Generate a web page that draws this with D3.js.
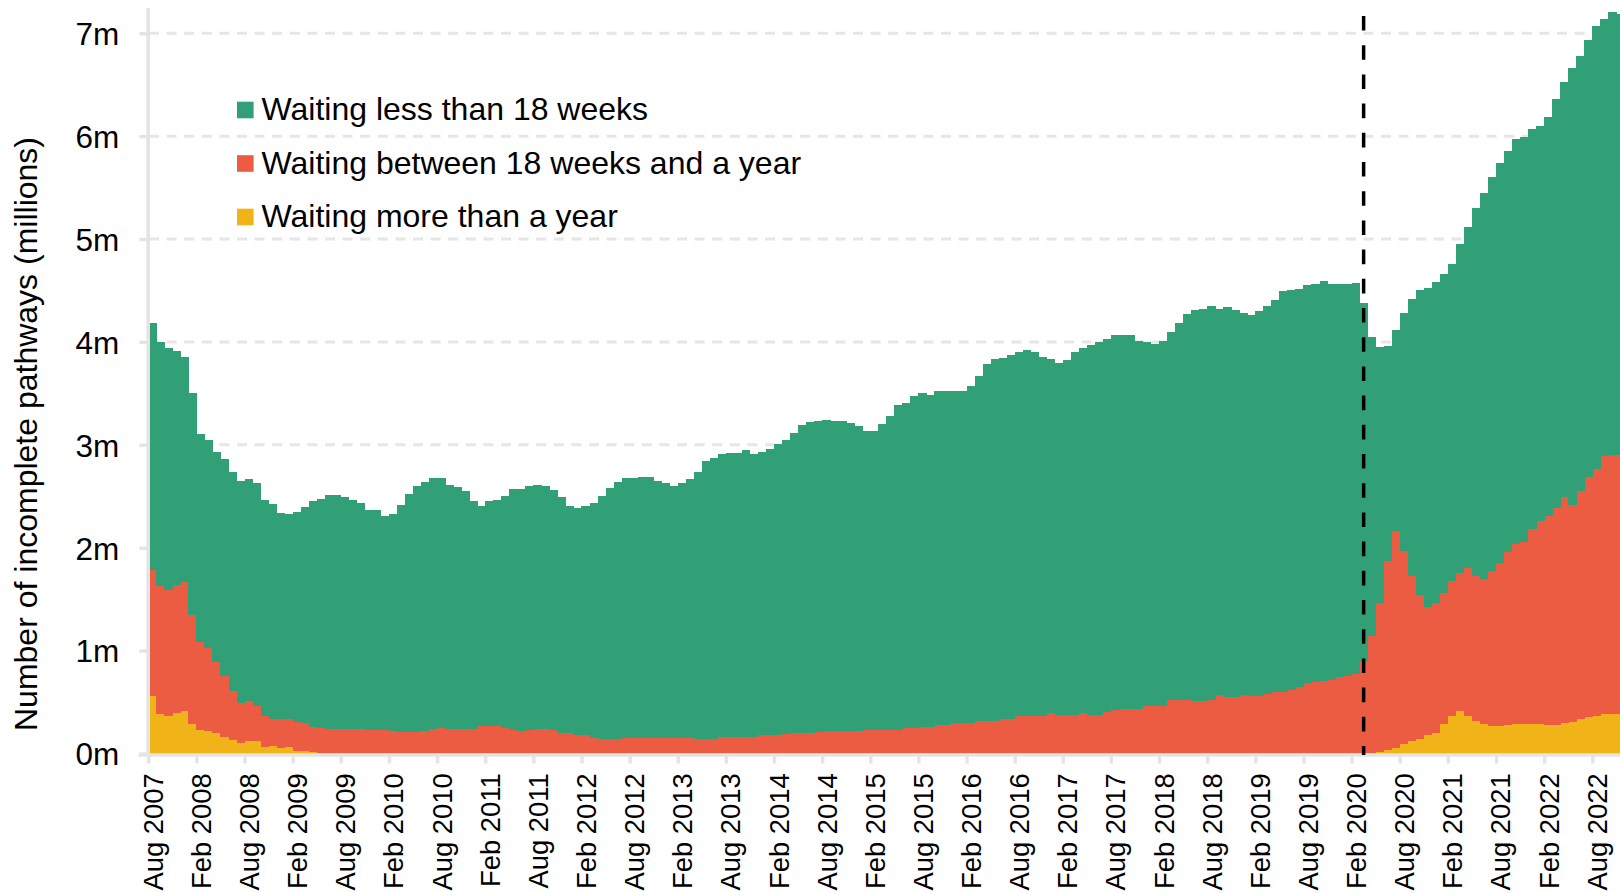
<!DOCTYPE html>
<html>
<head>
<meta charset="utf-8">
<script src="https://cdn.jsdelivr.net/npm/d3@7"></script>
<style>
  body { margin: 0; background: #fff; }
  text { font-family: "Liberation Sans", Arial, sans-serif; fill: #000; }
</style>
</head>
<body>
<div id="chart"></div>
<script>
// monthly categories, Aug 2007 - Nov 2022
var months = d3.timeMonth.range(new Date(2007, 7, 1), new Date(2022, 11, 1));

// millions of pathways
var under18 = [
  2.40, 2.37, 2.347, 2.273, 2.186, 2.151, 2.029, 2.024, 2.043, 2.107,
  2.131, 2.153, 2.16, 2.165, 2.105, 2.088, 1.997, 1.994, 2.04, 2.094,
  2.191, 2.225, 2.27, 2.27, 2.248, 2.222, 2.199, 2.144, 2.137, 2.083,
  2.111, 2.208, 2.318, 2.389, 2.418, 2.439, 2.426, 2.374, 2.354, 2.309,
  2.211, 2.137, 2.185, 2.195, 2.25, 2.341, 2.347, 2.374, 2.374, 2.364,
  2.338, 2.293, 2.209, 2.211, 2.234, 2.286, 2.364, 2.438, 2.496, 2.526,
  2.526, 2.532, 2.544, 2.499, 2.479, 2.45, 2.482, 2.52, 2.594, 2.697,
  2.73, 2.746, 2.759, 2.762, 2.785, 2.749, 2.752, 2.778, 2.824, 2.862,
  2.915, 2.995, 3.02, 3.023, 3.023, 3.011, 3.017, 2.994, 2.96, 2.913,
  2.913, 2.978, 3.057, 3.16, 3.157, 3.221, 3.244, 3.228, 3.245, 3.245,
  3.221, 3.221, 3.276, 3.351, 3.465, 3.513, 3.503, 3.535, 3.538, 3.548,
  3.529, 3.484, 3.435, 3.416, 3.448, 3.519, 3.545, 3.593, 3.625, 3.627,
  3.636, 3.635, 3.629, 3.58, 3.529, 3.516, 3.548, 3.581, 3.671, 3.755,
  3.798, 3.814, 3.827, 3.749, 3.788, 3.756, 3.71, 3.701, 3.74, 3.762,
  3.814, 3.901, 3.885, 3.874, 3.869, 3.869, 3.882, 3.849, 3.82, 3.81,
  3.801, 3.496, 2.901, 2.486, 2.095, 1.959, 2.315, 2.694, 2.963, 3.098,
  3.12, 3.098, 3.085, 3.195, 3.318, 3.578, 3.755, 3.836, 3.885, 3.902,
  3.93, 3.94, 3.885, 3.839, 3.878, 3.975, 4.033, 4.245, 4.228, 4.248,
  4.306, 4.245, 4.306, 4.287
];

var between = [
  1.22, 1.242, 1.224, 1.246, 1.257, 1.059, 0.848, 0.806, 0.683, 0.596,
  0.473, 0.388, 0.388, 0.337, 0.297, 0.262, 0.279, 0.272, 0.275, 0.275,
  0.247, 0.244, 0.233, 0.233, 0.237, 0.237, 0.235, 0.223, 0.223, 0.223,
  0.214, 0.204, 0.204, 0.204, 0.214, 0.236, 0.249, 0.236, 0.236, 0.236,
  0.236, 0.27, 0.27, 0.27, 0.247, 0.231, 0.221, 0.227, 0.234, 0.234,
  0.224, 0.198, 0.198, 0.173, 0.173, 0.15, 0.14, 0.14, 0.14, 0.15,
  0.15, 0.15, 0.144, 0.144, 0.144, 0.144, 0.144, 0.146, 0.143, 0.14,
  0.14, 0.16, 0.16, 0.16, 0.16, 0.164, 0.18, 0.18, 0.18, 0.184,
  0.199, 0.199, 0.199, 0.204, 0.216, 0.216, 0.216, 0.216, 0.219, 0.225,
  0.225, 0.225, 0.225, 0.229, 0.248, 0.248, 0.258, 0.258, 0.28, 0.28,
  0.297, 0.297, 0.297, 0.319, 0.319, 0.319, 0.339, 0.339, 0.368, 0.368,
  0.368, 0.368, 0.394, 0.378, 0.378, 0.378, 0.394, 0.378, 0.378, 0.4,
  0.426, 0.433, 0.433, 0.433, 0.465, 0.465, 0.465, 0.517, 0.517, 0.517,
  0.507, 0.507, 0.523, 0.569, 0.549, 0.549, 0.569, 0.562, 0.562, 0.582,
  0.595, 0.595, 0.621, 0.644, 0.685, 0.695, 0.705, 0.715, 0.744, 0.757,
  0.77, 0.885, 1.141, 1.452, 1.836, 2.101, 1.875, 1.602, 1.402, 1.25,
  1.263, 1.273, 1.305, 1.34, 1.434, 1.408, 1.412, 1.499, 1.58, 1.677,
  1.752, 1.768, 1.894, 1.972, 2.024, 2.102, 2.192, 2.107, 2.217, 2.331,
  2.396, 2.512, 2.516, 2.512
];

var overYear = [
  0.56, 0.383, 0.369, 0.395, 0.413, 0.29, 0.233, 0.22, 0.204, 0.162,
  0.132, 0.104, 0.12, 0.123, 0.065, 0.075, 0.058, 0.065, 0.029, 0.023,
  0.012, 0.008, 0.006, 0.006, 0.005, 0.005, 0.004, 0.003, 0.003, 0.003,
  0.003, 0.003, 0.003, 0.003, 0.003, 0.003, 0.003, 0.003, 0.003, 0.003,
  0.003, 0.002, 0.002, 0.002, 0.002, 0.002, 0.002, 0.002, 0.002, 0.002,
  0.002, 0.002, 0.002, 0.002, 0.002, 0.002, 0.002, 0.002, 0.002, 0.002,
  0.002, 0.002, 0.002, 0.002, 0.002, 0.002, 0.002, 0.002, 0.002, 0.002,
  0.002, 0.001, 0.001, 0.001, 0.001, 0.001, 0.001, 0.001, 0.001, 0.001,
  0.001, 0.001, 0.001, 0.001, 0.001, 0.001, 0.001, 0.001, 0.001, 0.001,
  0.001, 0.001, 0.001, 0.001, 0.001, 0.001, 0.001, 0.001, 0.001, 0.001,
  0.001, 0.001, 0.001, 0.001, 0.001, 0.001, 0.001, 0.001, 0.001, 0.001,
  0.001, 0.001, 0.001, 0.001, 0.001, 0.001, 0.001, 0.001, 0.001, 0.001,
  0.001, 0.001, 0.001, 0.001, 0.001, 0.001, 0.001, 0.001, 0.001, 0.001,
  0.001, 0.001, 0.001, 0.001, 0.001, 0.001, 0.001, 0.001, 0.001, 0.001,
  0.001, 0.001, 0.001, 0.001, 0.001, 0.001, 0.001, 0.001, 0.001, 0.001,
  0.001, 0.002, 0.005, 0.012, 0.032, 0.058, 0.09, 0.12, 0.142, 0.175,
  0.201, 0.288, 0.369, 0.415, 0.369, 0.314, 0.285, 0.272, 0.272, 0.278,
  0.288, 0.288, 0.288, 0.291, 0.281, 0.281, 0.298, 0.311, 0.337, 0.356,
  0.369, 0.382, 0.388, 0.388
];

var yTicks = [0, 1, 2, 3, 4, 5, 6, 7];
var seriesKeys = ["overYear", "between", "under18"];
var seriesLabels = {
  under18: "Waiting less than 18 weeks",
  between: "Waiting between 18 weeks and a year",
  overYear: "Waiting more than a year"
};
var colors = { under18: "#31a077", between: "#ec5c42", overYear: "#f1b418" };
var markerMonth = "Mar 2020";

var fmt = d3.timeFormat("%b %Y");
var axisGrey = "#e4e4e4";

var svg = d3.select("#chart")
  .append("svg")
  .attr("width", 1620)
  .attr("height", 892);

var step = 8.022;
var x = d3.scaleLinear()
  .domain([0, months.length])
  .range([148.3, 148.3 + step * months.length]);

var y = d3.scaleLinear()
  .domain([0, 7])
  .range([753.5, 33.3]);

// grid lines
svg.append("g")
  .selectAll("line")
  .data(yTicks.filter(function(d) { return d > 0; }))
  .enter().append("line")
  .attr("x1", 149)
  .attr("x2", 1620)
  .attr("y1", function(d) { return y(d); })
  .attr("y2", function(d) { return y(d); })
  .attr("stroke", "#e6e6e6")
  .attr("stroke-width", 3)
  .attr("stroke-dasharray", "10,7.6");

var rows = months.map(function(m, i) {
  return { i: i, under18: under18[i], between: between[i], overYear: overYear[i] };
});

var stacked = d3.stack().keys(seriesKeys)(rows);

svg.append("g")
  .attr("shape-rendering", "crispEdges")
  .selectAll("g")
  .data(stacked)
  .enter().append("g")
  .attr("fill", function(s) { return colors[s.key]; })
  .selectAll("rect")
  .data(function(s) { return s; })
  .enter().append("rect")
  .attr("x", function(d) { return x(d.data.i); })
  .attr("width", function(d) { return x(d.data.i + 1) - x(d.data.i) + 0.4; })
  .attr("y", function(d) { return y(d[1]); })
  .attr("height", function(d) { return y(d[0]) - y(d[1]); });

// y axis
var yAxis = svg.append("g")
  .attr("transform", "translate(148.3,0)")
  .call(d3.axisLeft(y)
    .tickValues(yTicks)
    .tickFormat(function(d) { return d + "m"; })
    .tickSize(9)
    .tickPadding(20)
    .tickSizeOuter(0));
yAxis.select(".domain").remove();
yAxis.selectAll("line").attr("stroke", axisGrey).attr("stroke-width", 3.4);
yAxis.selectAll("text")
  .attr("font-size", 31.5)
  .attr("dy", "0.36em")
  .style("font-family", '"Liberation Sans", Arial, sans-serif')
  .attr("fill", "#000");

// x axis
var xAxis = svg.append("g")
  .attr("transform", "translate(0,755)")
  .call(d3.axisBottom(x)
    .tickValues(d3.range(0, months.length, 6))
    .tickFormat(function(i) { return fmt(months[i]); })
    .tickSize(8.5)
    .tickSizeOuter(0));
xAxis.select(".domain").remove();
xAxis.selectAll("line").attr("stroke", axisGrey).attr("stroke-width", 3.4);
xAxis.selectAll("text")
  .attr("font-size", 27.4)
  .attr("transform", "rotate(-90)")
  .attr("text-anchor", "end")
  .attr("x", -18.3)
  .attr("y", 14)
  .attr("dy", 0)
  .style("font-family", '"Liberation Sans", Arial, sans-serif')
  .attr("fill", "#000");

// axis lines
svg.append("line")
  .attr("x1", 148.2).attr("x2", 148.2)
  .attr("y1", 8).attr("y2", 757)
  .attr("stroke", axisGrey).attr("stroke-width", 3.6);
svg.append("line")
  .attr("x1", 138.5).attr("x2", 1620)
  .attr("y1", 755).attr("y2", 755)
  .attr("stroke", axisGrey).attr("stroke-width", 3.4);

// dashed marker line
var mi = months.findIndex(function(m) { return fmt(m) === markerMonth; });
svg.append("line")
  .attr("x1", x(mi + 0.5)).attr("x2", x(mi + 0.5))
  .attr("y1", 16).attr("y2", 755)
  .attr("stroke", "#000")
  .attr("stroke-width", 3.5)
  .attr("stroke-dasharray", "14.6,14.6");

// y axis title
svg.append("text")
  .attr("transform", "translate(36.5,434) rotate(-90)")
  .attr("text-anchor", "middle")
  .attr("font-size", 32)
  .text("Number of incomplete pathways (millions)");

// legend
var legend = svg.append("g")
  .selectAll("g")
  .data(["under18", "between", "overYear"])
  .enter().append("g")
  .attr("transform", function(d, k) { return "translate(0," + (k * 53.5) + ")"; });

legend.append("rect")
  .attr("x", 237)
  .attr("y", 101.7)
  .attr("width", 16.6)
  .attr("height", 16.6)
  .attr("fill", function(d) { return colors[d]; });

legend.append("text")
  .attr("x", 261.5)
  .attr("y", 120)
  .attr("font-size", 32)
  .text(function(d) { return seriesLabels[d]; });
</script>
</body>
</html>
